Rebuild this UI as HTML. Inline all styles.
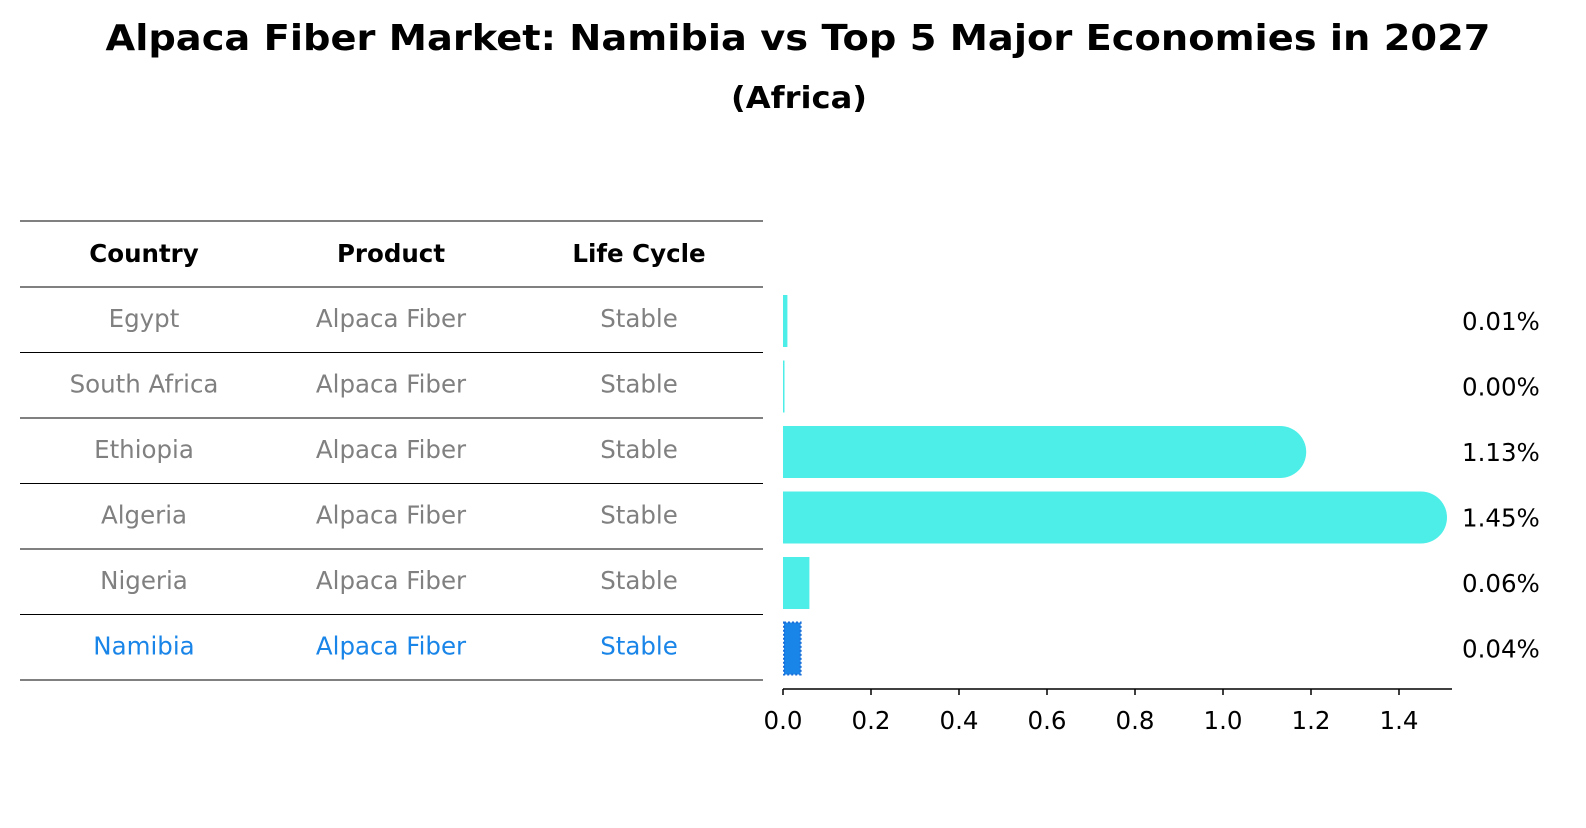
<!DOCTYPE html>
<html><head><meta charset="utf-8"><style>
body{margin:0;background:#fff;font-family:"Liberation Sans","DejaVu Sans",sans-serif;}
svg text{font-family:"DejaVu Sans","Liberation Sans",sans-serif;}
</style></head><body>
<svg id="c" width="1586" height="823" xmlns="http://www.w3.org/2000/svg">
<text x="798" y="50" text-anchor="middle" font-size="36" font-weight="bold" textLength="1385" lengthAdjust="spacingAndGlyphs">Alpaca Fiber Market: Namibia vs Top 5 Major Economies in 2027</text>
<text x="799" y="108" text-anchor="middle" font-size="30" font-weight="bold" textLength="136" lengthAdjust="spacingAndGlyphs">(Africa)</text>
<g id="tbl"></g>
<g id="bars"></g>
<g id="axis"></g>
</svg>
<script>
const countries=["Egypt","South Africa","Ethiopia","Algeria","Nigeria","Namibia"];
const values=[0.01,0.003,1.13,1.45,0.06,0.04];
const valueLabels=["0.01%","0.00%","1.13%","1.45%","0.06%","0.04%"];
const ticks=[0,0.2,0.4,0.6,0.8,1.0,1.2,1.4];
const NS="http://www.w3.org/2000/svg";
const FS=24.5;
function mk(t,a,p){const e=document.createElementNS(NS,t);for(const k in a)e.setAttribute(k,a[k]);p.appendChild(e);return e;}
const x0=783,scale=440;
const xs=v=>x0+v*scale;
const rowTop=i=>287+i*65.5;
const tbl=document.getElementById('tbl'),bars=document.getElementById('bars'),axis=document.getElementById('axis');
const cols=[144,391,639];
const lines=[221,287];
for(let i=0;i<countries.length;i++)lines.push(rowTop(i+1));
lines.forEach((y,i)=>{const l=mk('line',{x1:20,x2:763,y1:y,y2:y,stroke:'#000','stroke-width':1},tbl);

});
["Country","Product","Life Cycle"].forEach((h,j)=>{const t=mk('text',{x:cols[j],y:262,'text-anchor':'middle','font-size':FS,'font-weight':'bold'},tbl);t.textContent=h;

});
countries.forEach((c,i)=>{
 const y=rowTop(i)+40;
 const col=c==="Namibia"?'#1a85e8':'#808080';
 [c,"Alpaca Fiber","Stable"].forEach((s,j)=>{const t=mk('text',{x:cols[j],y:y,'text-anchor':'middle','font-size':FS,fill:col},tbl);t.textContent=s;
 
 });
 const cy=rowTop(i)+34;const h=52;const w=Math.max(1.5,xs(values[i])-x0);
 if(c==="Namibia"){
  const r=mk('rect',{x:x0+1,y:cy-h/2,width:w-1,height:h,fill:'#1a85e8',stroke:'#1a6fd8','stroke-width':2,'stroke-dasharray':'2,2'},bars);
  
  
 }else{
  const r=mk('rect',{x:x0,y:cy-h/2,width:w,height:h,fill:'#4deee8'},bars);
  
  
  if(values[i]>0.5){const e=mk('circle',{cx:x0+w,cy:cy,r:h/2,fill:'#4deee8'},bars);
  
  }
 }
 const t=mk('text',{x:1462,y:cy+9,'font-size':FS},bars);t.textContent=valueLabels[i];
 
 
});
const ay=689;
const al=mk('line',{x1:x0,x2:1452,y1:ay,y2:ay,stroke:'#000','stroke-width':1.5},axis);


ticks.forEach(v=>{const l=mk('line',{x1:xs(v),x2:xs(v),y1:ay,y2:ay+6,stroke:'#000','stroke-width':1.5},axis);


const t=mk('text',{x:xs(v),y:ay+40,'text-anchor':'middle','font-size':FS},axis);t.textContent=v.toFixed(1);

});
</script>
</body></html>
